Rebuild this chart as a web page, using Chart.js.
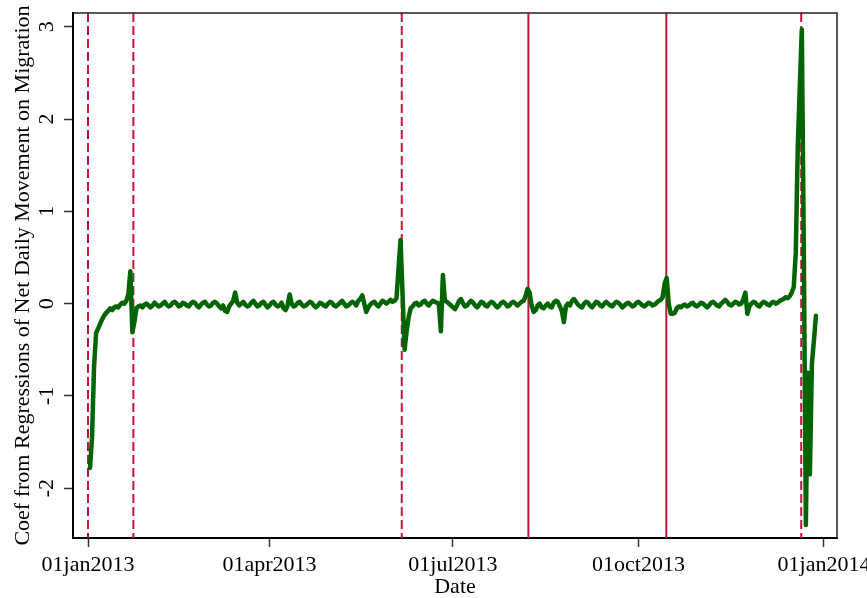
<!DOCTYPE html>
<html><head><meta charset="utf-8">
<script src="https://cdn.jsdelivr.net/npm/chart.js@4.4.1/dist/chart.umd.min.js"></script>
<style>html,body{margin:0;padding:0;background:#fff;}canvas{display:block;}</style>
</head><body>
<canvas id="c" width="867" height="598"></canvas>
<script>
// ---- data (day index counted from 01jan2013 = 0) ----
const firstDay = 1;
const coefValues = [
  -1.78, -1.45, -0.68, -0.32, -0.27, -0.22, -0.17, -0.13, -0.10, -0.08,
  -0.05, -0.07, -0.04, -0.03, -0.04, -0.01, 0.01, 0.00, 0.03, 0.10,
  0.35, -0.31, -0.20, -0.05, -0.03, -0.02, -0.04, -0.01, 0.00, -0.02,
  -0.04, -0.02, 0.01, -0.01, -0.03, -0.02, 0.00, 0.02, -0.01, -0.03,
  -0.02, 0.01, 0.02, 0.00, -0.03, -0.02, 0.01, 0.00, -0.02, -0.03,
  0.00, 0.02, 0.01, -0.02, -0.04, -0.01, 0.01, 0.02, -0.01, -0.03,
  -0.02, 0.01, 0.02, 0.00, -0.03, -0.05, -0.02, -0.08, -0.09, -0.03,
  0.00, 0.03, 0.12, 0.01, -0.02, 0.00, 0.02, -0.01, -0.03, -0.02,
  0.01, 0.03, 0.00, -0.03, -0.02, 0.01, 0.02, -0.01, -0.04, -0.02,
  0.01, 0.02, -0.01, -0.03, -0.02, 0.01, -0.05, -0.07, -0.02, 0.10,
  0.00, -0.03, -0.02, 0.01, 0.02, -0.01, -0.03, -0.02, 0.00, 0.02,
  0.01, -0.02, -0.04, -0.02, 0.01, 0.00, -0.02, -0.03, 0.00, 0.02,
  0.01, -0.02, -0.03, -0.01, 0.01, 0.03, 0.00, -0.03, -0.02, 0.00,
  0.02, 0.01, -0.02, 0.03, 0.05, 0.09, 0.00, -0.09, -0.04, -0.01,
  0.01, 0.02, -0.01, -0.03, 0.00, 0.03, 0.02, 0.00, 0.02, 0.04,
  0.02, 0.03, 0.06, 0.38, 0.69, 0.10, -0.50, -0.30, -0.15, -0.05,
  -0.03, 0.00, 0.01, -0.02, -0.01, 0.02, 0.03, 0.00, -0.02, 0.01,
  0.03, 0.02, 0.01, 0.00, -0.30, 0.31, 0.03, 0.02, 0.00, -0.02,
  -0.04, -0.06, -0.02, 0.03, 0.05, 0.00, -0.03, -0.02, 0.01, 0.03,
  0.01, -0.02, -0.04, -0.01, 0.02, 0.01, -0.02, -0.03, 0.00, 0.02,
  0.01, -0.02, -0.04, -0.02, 0.01, 0.02, 0.00, -0.03, -0.02, 0.01,
  0.02, 0.00, -0.02, 0.00, 0.02, 0.03, 0.08, 0.16, 0.12, -0.02,
  -0.09, -0.07, -0.02, 0.00, -0.04, -0.05, -0.02, 0.00, -0.03, -0.04,
  0.01, 0.03, 0.02, -0.03, -0.08, -0.20, -0.03, 0.00, -0.02, 0.03,
  0.05, 0.02, -0.01, -0.03, -0.04, 0.00, 0.02, 0.01, -0.02, -0.04,
  -0.01, 0.02, 0.01, -0.02, -0.03, 0.00, 0.02, 0.00, -0.02, -0.03,
  0.00, 0.02, 0.01, -0.01, -0.04, -0.02, 0.00, 0.01, -0.01, -0.03,
  -0.02, 0.01, 0.02, 0.00, -0.02, -0.03, -0.01, 0.01, 0.00, -0.02,
  -0.01, 0.01, 0.03, 0.04, 0.07, 0.22, 0.28, 0.00, -0.11, -0.11,
  -0.10, -0.05, -0.03, -0.04, -0.02, -0.01, -0.03, -0.02, 0.00, 0.01,
  -0.02, -0.03, -0.01, 0.01, 0.00, -0.02, -0.04, -0.02, 0.01, 0.02,
  0.00, -0.02, -0.03, 0.00, 0.02, 0.04, 0.02, -0.01, -0.02, 0.00,
  0.02, 0.01, -0.01, 0.00, 0.05, 0.12, -0.11, -0.03, 0.00, 0.02,
  0.01, -0.02, -0.03, 0.00, 0.02, 0.01, -0.01, -0.02, 0.01, 0.02,
  0.00, 0.01, 0.03, 0.04, 0.05, 0.07, 0.06, 0.08, 0.12, 0.18,
  0.55, 1.70, 2.35, 2.97, 0.57, -2.40, -0.75, -1.85, -0.65, -0.40, -0.13
];
const xTickValues = [0, 90, 181, 273, 365];
const xTickLabels = ['01jan2013', '01apr2013', '01jul2013', '01oct2013', '01jan2014'];
const yTickValues = [-2, -1, 0, 1, 2, 3];
const dashedLineDays = [0, 22.5, 155.6, 353.7];
const solidLineDays = [218.4, 286.8];
const xTitle = 'Date';
const yTitle = 'Coef from Regressions of Net Daily Movement on Migration';

const points = coefValues.map((v, i) => ({ x: firstDay + i, y: v }));
const FONT = 'Liberation Serif';
const RED = '#C8143C';

const refLines = {
  id: 'refLines',
  beforeDatasetsDraw(chart) {
    const { ctx, chartArea: { top, bottom }, scales: { x } } = chart;
    ctx.save();
    ctx.strokeStyle = RED;
    ctx.lineWidth = 2;
    ctx.setLineDash([9, 4]);
    dashedLineDays.forEach(d => {
      const px = x.getPixelForValue(d);
      ctx.beginPath(); ctx.moveTo(px, top); ctx.lineTo(px, bottom); ctx.stroke();
    });
    ctx.setLineDash([]);
    solidLineDays.forEach(d => {
      const px = x.getPixelForValue(d);
      ctx.beginPath(); ctx.moveTo(px, top); ctx.lineTo(px, bottom); ctx.stroke();
    });
    ctx.restore();
  }
};
// frame on top/right plus vertical (rotated) y tick labels
const frame = {
  id: 'frame',
  afterDraw(chart) {
    const { ctx, chartArea: { left, right, top, bottom }, scales: { y } } = chart;
    ctx.save();
    ctx.strokeStyle = '#222';
    ctx.lineWidth = 1.5;
    ctx.beginPath();
    ctx.moveTo(left, top); ctx.lineTo(right, top); ctx.lineTo(right, bottom);
    ctx.stroke();
    ctx.fillStyle = '#000';
    ctx.font = '22px "' + FONT + '"';
    ctx.textAlign = 'center';
    ctx.textBaseline = 'middle';
    y.ticks.forEach(t => {
      const py = y.getPixelForValue(t.value);
      ctx.save();
      ctx.translate(left - 26, py);
      ctx.rotate(-Math.PI / 2);
      ctx.fillText(String(t.value), 0, 0);
      ctx.restore();
    });
    ctx.restore();
  }
};

new Chart(document.getElementById('c'), {
  type: 'line',
  data: {
    datasets: [{
      data: points,
      borderColor: '#006400',
      borderWidth: 4.5,
      pointRadius: 0,
      tension: 0,
      borderJoinStyle: 'round',
      borderCapStyle: 'round',
      fill: false
    }]
  },
  options: {
    responsive: false,
    animation: false,
    devicePixelRatio: 1,
    layout: { padding: { top: 13, right: 30, left: 0, bottom: 0 } },
    plugins: { legend: { display: false }, tooltip: { enabled: false } },
    scales: {
      x: {
        type: 'linear',
        min: -7.44, max: 371.45,
        afterBuildTicks: s => { s.ticks = xTickValues.map(v => ({ value: v })); },
        afterFit: s => { s.height = 60; s.paddingLeft = 0; s.paddingRight = 0; },
        ticks: {
          autoSkip: false, maxRotation: 0, minRotation: 0, padding: 5, color: '#000',
          font: { family: FONT, size: 22 },
          callback: v => { const i = xTickValues.indexOf(v); return i >= 0 ? xTickLabels[i] : ''; }
        },
        grid: { drawOnChartArea: false, drawTicks: true, tickLength: 9, tickColor: '#333', tickWidth: 1.5 },
        border: { display: true, color: '#000', width: 2 },
        title: { display: true, text: xTitle, color: '#000', font: { family: FONT, size: 22 }, padding: { top: 0, bottom: -2 } }
      },
      y: {
        type: 'linear',
        min: -2.54, max: 3.15,
        afterBuildTicks: s => { s.ticks = yTickValues.map(v => ({ value: v })); },
        afterFit: s => { s.width = 73; },
        ticks: { display: false },
        grid: { drawOnChartArea: false, drawTicks: true, tickLength: 9, tickColor: '#333', tickWidth: 1.5 },
        border: { display: true, color: '#000', width: 2 },
        title: { display: true, text: yTitle, color: '#000', font: { family: FONT, size: 22 }, padding: { top: 10, bottom: 0 } }
      }
    }
  },
  plugins: [refLines, frame]
});
</script>
</body></html>
